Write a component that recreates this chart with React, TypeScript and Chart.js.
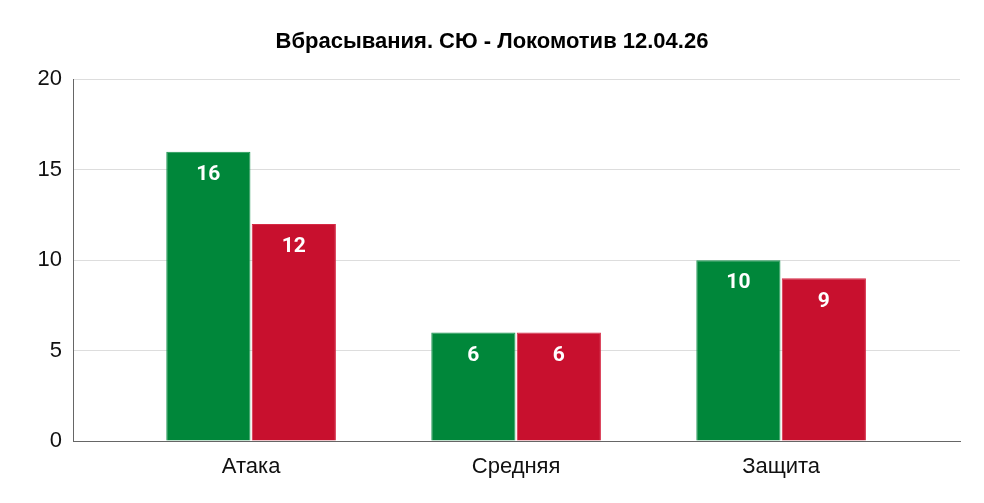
import React, { useEffect, useRef } from 'react';
import { Chart, registerables } from 'chart.js';

Chart.register(...registerables);

const categories = ['Атака', 'Средняя', 'Защита'];
const homeValues = [16, 6, 10];
const awayValues = [12, 6, 9];
const yTicks = [0, 5, 10, 15, 20];

const GREEN = '#00873a';
const RED = '#c8102e';

const barLabels = {
  id: 'barLabels',
  afterDatasetsDraw(chart: any) {
    const { ctx } = chart;
    ctx.save();
    ctx.fillStyle = '#ffffff';
    ctx.font = 'bold 21px Roboto, sans-serif';
    ctx.textAlign = 'center';
    ctx.textBaseline = 'middle';
    chart.data.datasets.forEach((ds: any, i: number) => {
      const meta = chart.getDatasetMeta(i);
      meta.data.forEach((el: any, j: number) => {
        ctx.fillText(String(ds.data[j].y), el.x, el.y + 23);
      });
    });
    ctx.restore();
  },
};

export default function App() {
  const canvasRef = useRef<HTMLCanvasElement>(null);

  useEffect(() => {
    document.body.style.margin = '0';
    if (!canvasRef.current) return;
    const chart = new Chart(canvasRef.current, {
      type: 'bar',
      data: {
        datasets: [
          {
            label: 'СЮ',
            data: homeValues.map((v, i) => ({ x: i, y: v })),
            backgroundColor: GREEN,
            borderColor: '#1a9550',
            borderWidth: 1,
            categoryPercentage: 0.645,
            barPercentage: 0.985,
          },
          {
            label: 'Локомотив',
            data: awayValues.map((v, i) => ({ x: i, y: v })),
            backgroundColor: RED,
            borderColor: '#d62a45',
            borderWidth: 1,
            categoryPercentage: 0.645,
            barPercentage: 0.985,
          },
        ],
      },
      options: {
        responsive: false,
        animation: false,
        layout: { padding: { left: 24, right: 24, top: 0, bottom: 0 } },
        plugins: {
          legend: { display: false },
          tooltip: { enabled: false },
          title: {
            display: true,
            text: 'Вбрасывания. СЮ - Локомотив 12.04.26',
            color: '#000000',
            font: { family: '"Liberation Sans", Arial, sans-serif', size: 22, weight: 'bold', lineHeight: 1.2 },
            padding: { top: 29, bottom: 24 },
          },
        },
        scales: {
          x: {
            type: 'linear',
            offset: false,
            min: -0.672,
            max: 2.675,
            grid: { display: false },
            border: { display: true, color: '#666666', width: 1 },
            afterBuildTicks: (axis: any) => {
              axis.ticks = categories.map((_, i) => ({ value: i }));
            },
            afterFit: (scale: any) => {
              scale.height = 62;
            },
            ticks: {
              color: '#111111',
              padding: 5,
              font: { family: '"Liberation Sans", Arial, sans-serif', size: 22 },
              callback: (v: any) => categories[v] ?? '',
            },
          },
          y: {
            min: 0,
            max: 20,
            afterBuildTicks: (axis: any) => {
              axis.ticks = yTicks.map((v) => ({ value: v }));
            },
            afterFit: (scale: any) => {
              scale.width = 49;
            },
            grid: { color: '#dddddd', tickLength: 0 },
            border: { display: true, color: '#666666', width: 1 },
            ticks: {
              color: '#111111',
              padding: 11,
              font: { family: '"Liberation Sans", Arial, sans-serif', size: 22 },
            },
          },
        },
      },
      plugins: [barLabels],
    });
    return () => chart.destroy();
  }, []);

  return (
    <div style={{ width: 984, height: 503, background: '#ffffff' }}>
      <canvas ref={canvasRef} width={984} height={503} />
    </div>
  );
}
